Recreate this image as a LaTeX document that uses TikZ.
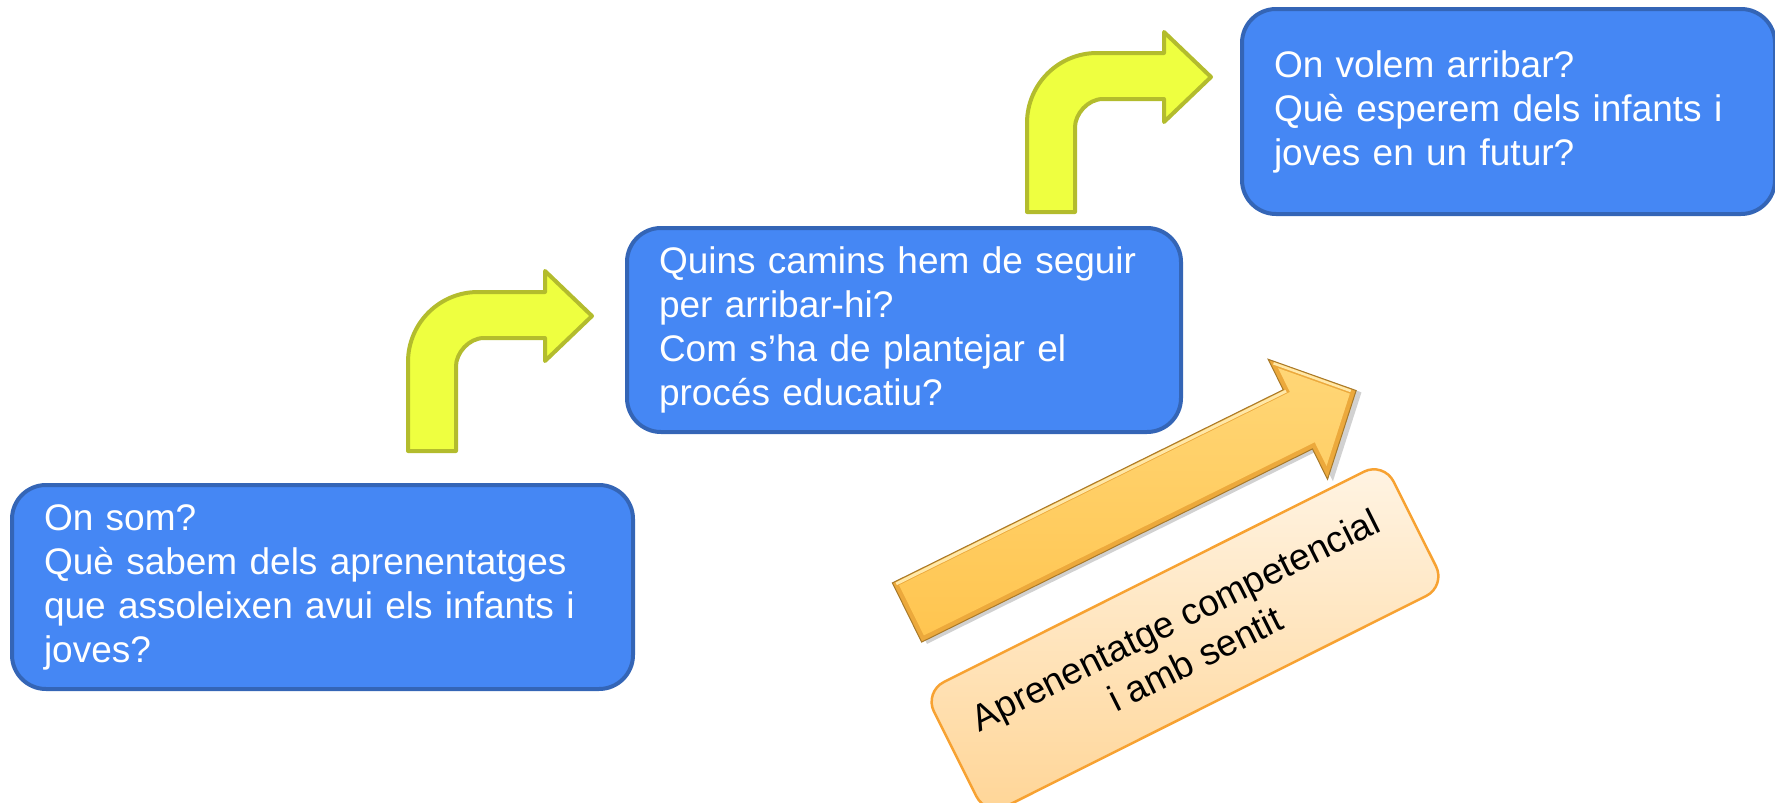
\documentclass[tikz,border=0pt]{standalone}
\usepackage{fontspec}
\setmainfont{Liberation Sans}
\definecolor{boxfill}{HTML}{4587F4}
\definecolor{boxedge}{HTML}{3465B6}
\definecolor{yfill}{HTML}{EEFF40}
\definecolor{yedge}{HTML}{B3BC2D}
\definecolor{oedge}{HTML}{A87A2A}
\definecolor{odark}{HTML}{ECA93C}
\definecolor{olight}{HTML}{FFD676}
\definecolor{omid}{HTML}{FFC550}
\definecolor{ohigh}{HTML}{FFE8A8}
\definecolor{lbledge}{HTML}{F7A232}
\definecolor{lbltop}{HTML}{FFF4E4}
\definecolor{lblbot}{HTML}{FFD596}
\begin{document}
\begin{tikzpicture}[x=1pt,y=-1pt,
  bluebox/.style={draw=boxedge, line width=4pt, fill=boxfill, rounded corners=34pt,
    text=white, font=\fontsize{37}{44}\selectfont, align=left,
    inner xsep=32pt, inner ysep=0pt, anchor=north west},
  yellowarrow/.style={draw=yedge, fill=yfill, line width=4pt, line join=round},
  labelbox/.style={draw=lbledge, line width=2.5pt, rounded corners=22pt,
    top color=lbltop, bottom color=lblbot, text=black,
    font=\fontsize{37}{44}\selectfont, align=center,
    minimum width=514pt, minimum height=139pt, inner sep=0pt},
  bentarrow/.pic={
    \path[yellowarrow] (0,0) -- (0,-89)
      .. controls (0,-127.66) and (31.34,-159) .. (70,-159)
      -- (137,-159) -- (137,-180) -- (184,-135) -- (137,-90) -- (137,-113)
      -- (76,-113)
      .. controls (60.54,-113) and (48,-97.54) .. (48,-85)
      -- (48,0) -- cycle;
  }
]
\useasboundingbox (0,0) rectangle (1775,803);

% blue boxes
\node[bluebox, text width=557pt, minimum height=204pt] (now) at (10,483)
  {On som?\\Què sabem dels aprenentatges\\que assoleixen avui els infants i\\joves?};
\node[bluebox, text width=490pt, minimum height=204pt] (path) at (625,226)
  {Quins camins hem de seguir\\per arribar-hi?\\Com s’ha de plantejar el\\procés educatiu?};
\node[bluebox, text width=469pt, minimum height=205pt] (goal) at (1240,7)
  {On volem arribar?\\Què esperem dels infants i\\joves en un futur?};

% yellow bent arrows
\pic (arrA) at (408,451) {bentarrow};
\pic (arrB) at (1027,212) {bentarrow};

% big orange arrow
\begin{scope}[shift={(907,612.5)}, rotate=26.3]
  \fill[black, opacity=0.18] (4,-29) -- (440,-29) -- (440,-63) -- (505,4) -- (440,71) -- (440,37) -- (4,37) -- cycle;
  \path[draw=oedge, line width=1pt, fill=odark, line join=miter]
    (0,-33) -- (436,-33) -- (436,-67) -- (501,0) -- (436,67) -- (436,33) -- (0,33) -- cycle;
  \shade[top color=olight, bottom color=omid]
    (5,-28) -- (441,-28) -- (441,-54.6) -- (494,0) -- (441,54.6) -- (441,28) -- (5,28) -- cycle;
  \draw[ohigh, line width=3pt] (3,-30.5) -- (438,-30.5);
  \draw[ohigh, line width=2.5pt] (439,-61) -- (496,-2);
\end{scope}

% label box
\node[labelbox, rotate=26.6] (lbl) at (1185,639)
  {Aprenentatge competencial\\i amb sentit};
\end{tikzpicture}
\end{document}
